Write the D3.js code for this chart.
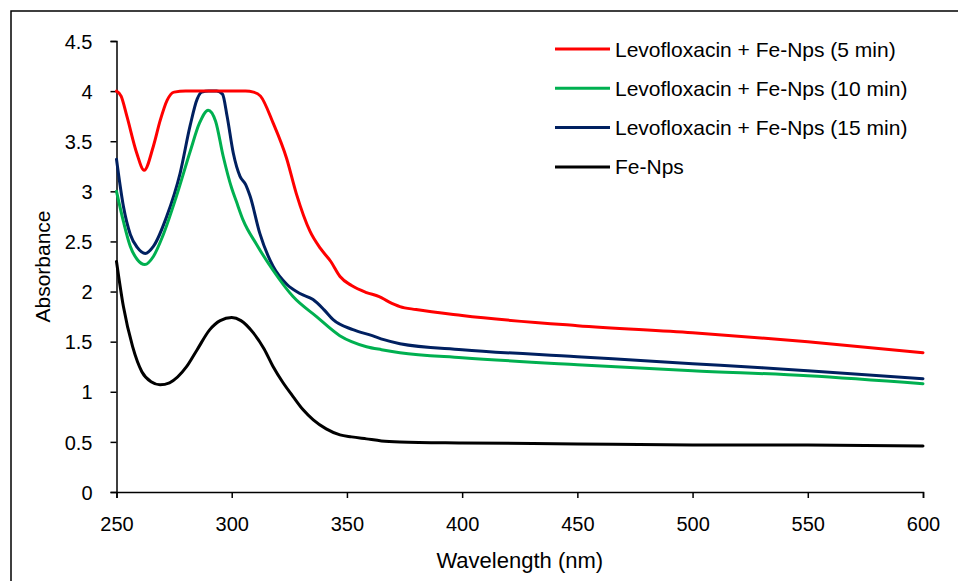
<!DOCTYPE html>
<html>
<head>
<meta charset="utf-8">
<script src="https://cdn.jsdelivr.net/npm/d3@7"></script>
<style>
  html, body { margin: 0; padding: 0; background: #fff; }
  svg { display: block; }
  text { font-family: "Liberation Sans", "DejaVu Sans", sans-serif; fill: #000; }
</style>
</head>
<body>
<svg id="chart" width="958" height="581"></svg>
<script>
// UV-Vis absorbance spectra: wavelength (nm) vs absorbance
const seriesNames = [
  "Levofloxacin + Fe-Nps (5 min)",
  "Levofloxacin + Fe-Nps (10 min)",
  "Levofloxacin + Fe-Nps (15 min)",
  "Fe-Nps"
];
const seriesColors = ["#ff0000", "#00b050", "#002060", "#000000"];

const wl5 =  [250, 252, 254.5, 258.8, 262, 266, 269, 272, 275, 280, 290, 300, 306, 309.5, 312.5, 318, 323.8, 328, 334, 338.5, 343, 347, 352, 358.5, 364, 368, 373, 380, 400, 450, 500, 550, 600];
const abs5 = [4.0, 3.95, 3.75, 3.38, 3.21, 3.45, 3.71, 3.91, 3.99, 4.0, 4.0, 4.0, 4.0, 3.99, 3.95, 3.68, 3.33, 2.98, 2.6, 2.43, 2.3, 2.15, 2.06, 1.99, 1.95, 1.9, 1.85, 1.82, 1.76, 1.66, 1.59, 1.5, 1.39];

const wl10 =  [250, 253, 256, 259, 262.3, 266, 270, 276, 282, 286, 289.8, 293, 296.3, 300, 302, 305, 310.8, 318, 326.6, 336.8, 346.9, 352, 358.5, 365, 373, 400, 450, 500, 550, 600];
const abs10 = [3.0, 2.7, 2.45, 2.32, 2.27, 2.35, 2.55, 2.95, 3.4, 3.68, 3.81, 3.7, 3.35, 3.03, 2.9, 2.71, 2.47, 2.21, 1.95, 1.75, 1.56, 1.5, 1.45, 1.42, 1.39, 1.34, 1.27, 1.21, 1.16, 1.08];

const wl15 =  [250, 253, 256, 259, 262.5, 266, 271.8, 277.6, 282, 285, 287, 290, 293.5, 296, 298, 300.7, 303.6, 306, 308, 312.2, 318, 324, 329.6, 335.3, 340, 344, 352.6, 361, 366, 373, 400, 450, 500, 530, 550, 600];
const abs15 = [3.32, 2.85, 2.57, 2.44, 2.38, 2.45, 2.75, 3.18, 3.66, 3.92, 3.99, 4.0, 4.0, 3.97, 3.75, 3.38, 3.15, 3.07, 2.95, 2.58, 2.25, 2.07, 1.98, 1.92, 1.82, 1.72, 1.62, 1.56, 1.52, 1.48, 1.42, 1.35, 1.28, 1.24, 1.21, 1.13];

const wlFe =  [250, 253, 257, 261, 265, 268.9, 273, 280.4, 285, 290.5, 295, 300, 304, 309.3, 314, 318, 322, 326.7, 331, 335.4, 341, 347, 352, 358.5, 365, 373, 400, 450, 500, 550, 600];
const absFe = [2.3, 1.85, 1.45, 1.2, 1.1, 1.07, 1.09, 1.25, 1.42, 1.62, 1.71, 1.74, 1.71, 1.59, 1.43, 1.25, 1.1, 0.95, 0.82, 0.72, 0.63, 0.57, 0.55, 0.53, 0.51, 0.5, 0.49, 0.48, 0.47, 0.47, 0.46];

const xTicks = [250, 300, 350, 400, 450, 500, 550, 600];
const yTicks = [0, 0.5, 1, 1.5, 2, 2.5, 3, 3.5, 4, 4.5];

const seriesX = [wl5, wl10, wl15, wlFe];
const seriesY = [abs5, abs10, abs15, absFe];
const series = seriesNames.map((name, i) => ({
  name, color: seriesColors[i],
  points: seriesX[i].map((w, j) => ({ w, a: seriesY[i][j] }))
}));

const svg = d3.select("#chart");
const plotLeft = 116.5, plotRight = 923, plotTop = 41, plotBottom = 492;

// outer frame
svg.append("rect")
  .attr("x", 11).attr("y", 11)
  .attr("width", 1000).attr("height", 1000)
  .attr("fill", "none").attr("stroke", "#000").attr("stroke-width", 1.5);

const x = d3.scaleLinear().domain([250, 600]).range([plotLeft, plotRight]);
const y = d3.scaleLinear().domain([0, 4.5]).range([plotBottom, plotTop]);

// x axis
const gx = svg.append("g").attr("transform", `translate(0,${plotBottom})`)
  .call(d3.axisBottom(x).tickValues(xTicks).tickFormat(d3.format("d")).tickSizeOuter(0).tickSize(6));
gx.select(".domain").attr("stroke", "#000").attr("stroke-width", 1.5);
gx.selectAll(".tick line").attr("stroke", "#000").attr("stroke-width", 1.5);
gx.selectAll(".tick text").style("font-size", "20px").attr("y", 39).attr("dy", 0);

// y axis
const gy = svg.append("g").attr("transform", `translate(${plotLeft},0)`)
  .call(d3.axisLeft(y).tickValues(yTicks).tickFormat(d => String(d)).tickSizeOuter(0).tickSize(6));
gy.select(".domain").attr("stroke", "#000").attr("stroke-width", 1.5);
gy.selectAll(".tick line").attr("stroke", "#000").attr("stroke-width", 1.5);
gy.selectAll(".tick text").style("font-size", "20px").attr("x", -24).attr("dy", "0.36em");

// axis titles
svg.append("text")
  .attr("x", (plotLeft + plotRight) / 2).attr("y", 568)
  .attr("text-anchor", "middle").style("font-size", "22px")
  .text("Wavelength (nm)");
svg.append("text")
  .attr("transform", `translate(50,${(plotTop + plotBottom) / 2}) rotate(-90)`)
  .attr("text-anchor", "middle").style("font-size", "21px")
  .text("Absorbance");

// spectra
const line = d3.line()
  .x(d => x(d.w)).y(d => y(d.a))
  .curve(d3.curveMonotoneX);

svg.append("g").selectAll("path")
  .data(series.slice().reverse())
  .join("path")
  .attr("d", d => line(d.points))
  .attr("fill", "none")
  .attr("stroke", d => d.color)
  .attr("stroke-width", 3)
  .attr("stroke-linejoin", "round")
  .attr("stroke-linecap", "round");

// legend
const legend = svg.append("g");
series.forEach((s, i) => {
  const ly = 49 + i * 39.3;
  legend.append("line")
    .attr("x1", 555).attr("x2", 610).attr("y1", ly).attr("y2", ly)
    .attr("stroke", s.color).attr("stroke-width", 3);
  legend.append("text")
    .attr("x", 615).attr("y", ly).attr("dy", "0.36em")
    .style("font-size", "21px")
    .text(s.name);
});
</script>
</body>
</html>
